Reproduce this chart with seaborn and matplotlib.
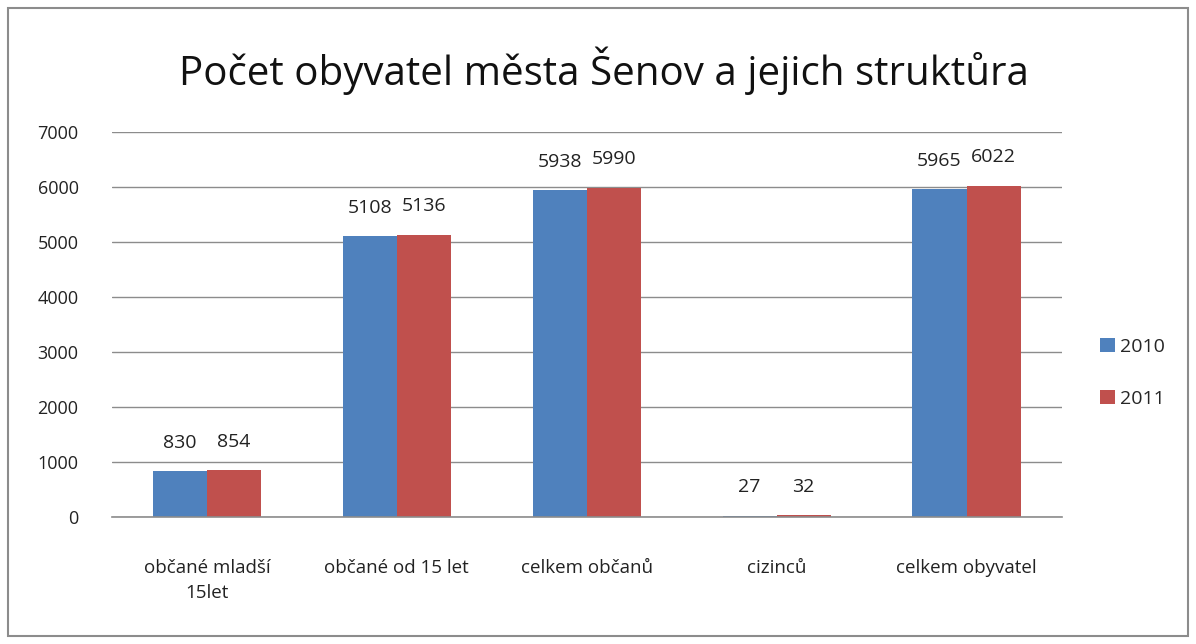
import matplotlib
matplotlib.use("Agg")
import matplotlib.pyplot as plt
import seaborn as sns
import pandas as pd
from matplotlib.patches import Rectangle

categories = ["občané mladší\n15let", "občané od 15 let", "celkem občanů", "cizinců", "celkem obyvatel"]
years = ["2010", "2011"]
values_2010 = [830, 5108, 5938, 27, 5965]
values_2011 = [854, 5136, 5990, 32, 6022]
yticks = [0, 1000, 2000, 3000, 4000, 5000, 6000, 7000]
title = "Počet obyvatel města Šenov a jejich struktůra"
colors = ["#4F81BD", "#C0504D"]

df = pd.DataFrame({
    "kategorie": categories * 2,
    "rok": [years[0]] * len(categories) + [years[1]] * len(categories),
    "hodnota": values_2010 + values_2011,
})

sns.set_theme(style="white")
plt.rcParams["font.family"] = ["Open Sans", "DejaVu Sans"]

fig = plt.figure(figsize=(11.96, 6.44), dpi=100)
ax = fig.add_axes([0.0936, 0.197, 0.794, 0.598])

sns.barplot(data=df, x="kategorie", y="hodnota", hue="rok", palette=colors,
            width=0.57, saturation=1, ax=ax, legend=True, linewidth=0)

ax.set_ylim(0, 7000)
ax.set_yticks(yticks)
ax.set_yticklabels([str(t) for t in yticks], fontsize=13, color="#222222")
ax.tick_params(axis="x", labelsize=13.5, colors="#222222", length=0, pad=30)
ax.tick_params(axis="y", length=0, pad=24)
ax.set_xlabel("")
ax.set_ylabel("")
ax.yaxis.grid(True, color="#8c8c8c", linewidth=1)
ax.set_axisbelow(True)
for s in ["top", "right", "left"]:
    ax.spines[s].set_visible(False)
ax.spines["bottom"].set_color("#8c8c8c")
ax.spines["bottom"].set_linewidth(1.2)

for cont in ax.containers:
    ax.bar_label(cont, fmt="%d", padding=14, fontsize=14, color="#222222")

for lbl in ax.get_xticklabels():
    lbl.set_multialignment("center")
    lbl.set_linespacing(1.5)

leg = ax.legend(loc="center left", bbox_to_anchor=(1.022, 0.374), frameon=False,
                fontsize=14, handlelength=0.75, handleheight=0.75, labelspacing=1.75,
                handletextpad=0.3)

fig.text(0.505, 0.89, title, ha="center", va="center", fontsize=29, color="#111111")

fig.patches.append(Rectangle((0.007, 0.012), 0.986, 0.976, transform=fig.transFigure,
                             fill=False, edgecolor="#8c8c8c", linewidth=1.5))

fig.savefig("out.png", dpi=100, facecolor="white")
